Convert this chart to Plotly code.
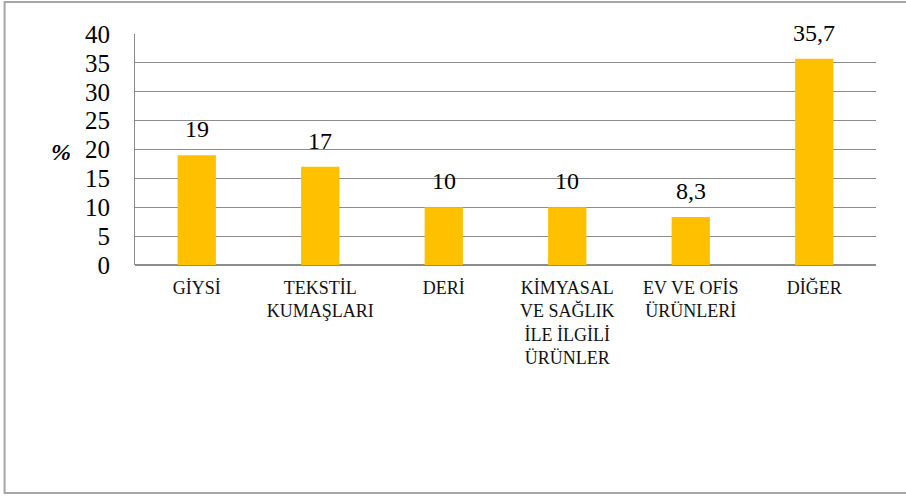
import plotly.graph_objects as go

categories = ["GİYSİ", "TEKSTİL<br>KUMAŞLARI", "DERİ", "KİMYASAL<br>VE SAĞLIK<br>İLE İLGİLİ<br>ÜRÜNLER",
              "EV VE OFİS<br>ÜRÜNLERİ", "DİĞER"]
values = [19, 17, 10, 10, 8.3, 35.7]
value_labels = ["19", "17", "10", "10", "8,3", "35,7"]
y_ticks = [0, 5, 10, 15, 20, 25, 30, 35, 40]

W, H = 906, 497
L, R, T, B = 134.5, 876, 33.5, 265.3

FONT = "'Times New Roman', 'Liberation Serif', 'DejaVu Serif', serif"

fig = go.Figure()
fig.add_trace(go.Bar(x=categories, y=values, width=0.31, marker=dict(color="#FFC000", line=dict(width=0)),
                     hoverinfo="skip"))

for c, v, t in zip(categories, values, value_labels):
    fig.add_annotation(x=c, y=v, text=t, showarrow=False, yanchor="middle", yshift=26,
                       font=dict(family=FONT, size=24, color="#000"))

pw, ph = R - L, B - T
def px(x):
    return (x - L) / pw
def py(y):
    return (B - y) / ph

fig.add_annotation(xref="paper", yref="paper", x=px(60), y=py(152), text="<b><i>%</i></b>",
                   showarrow=False, xanchor="center", yanchor="middle",
                   font=dict(family=FONT, size=24, color="#000"))

fig.add_shape(type="rect", xref="paper", yref="paper", x0=px(4), x1=px(910), y0=py(494), y1=py(1.5),
              line=dict(color="#a6a6a6", width=2), fillcolor="rgba(0,0,0,0)", layer="below")

fig.update_layout(
    width=W, height=H,
    margin=dict(l=L, r=W - R, t=T, b=H - B, pad=0),
    paper_bgcolor="white", plot_bgcolor="white",
    showlegend=False,
    font=dict(family=FONT, color="#000"),
    xaxis=dict(showgrid=False, showline=False, ticks="", tickfont=dict(family=FONT, size=18, color="#111"),
               tickangle=0, ticklabelstandoff=10),
    yaxis=dict(range=[0, 40], tickvals=y_ticks, showgrid=True, gridcolor="#8c8c8c", gridwidth=1,
               zeroline=True, zerolinecolor="#8c8c8c", zerolinewidth=1.5,
               showline=True, linecolor="#8c8c8c", linewidth=1,
               ticks="", tickfont=dict(family=FONT, size=25, color="#000"), ticklabelstandoff=19),
)

fig.write_html("out.html", config={"displayModeBar": False},
               post_script="document.body.style.margin='0';document.body.style.padding='0';")
